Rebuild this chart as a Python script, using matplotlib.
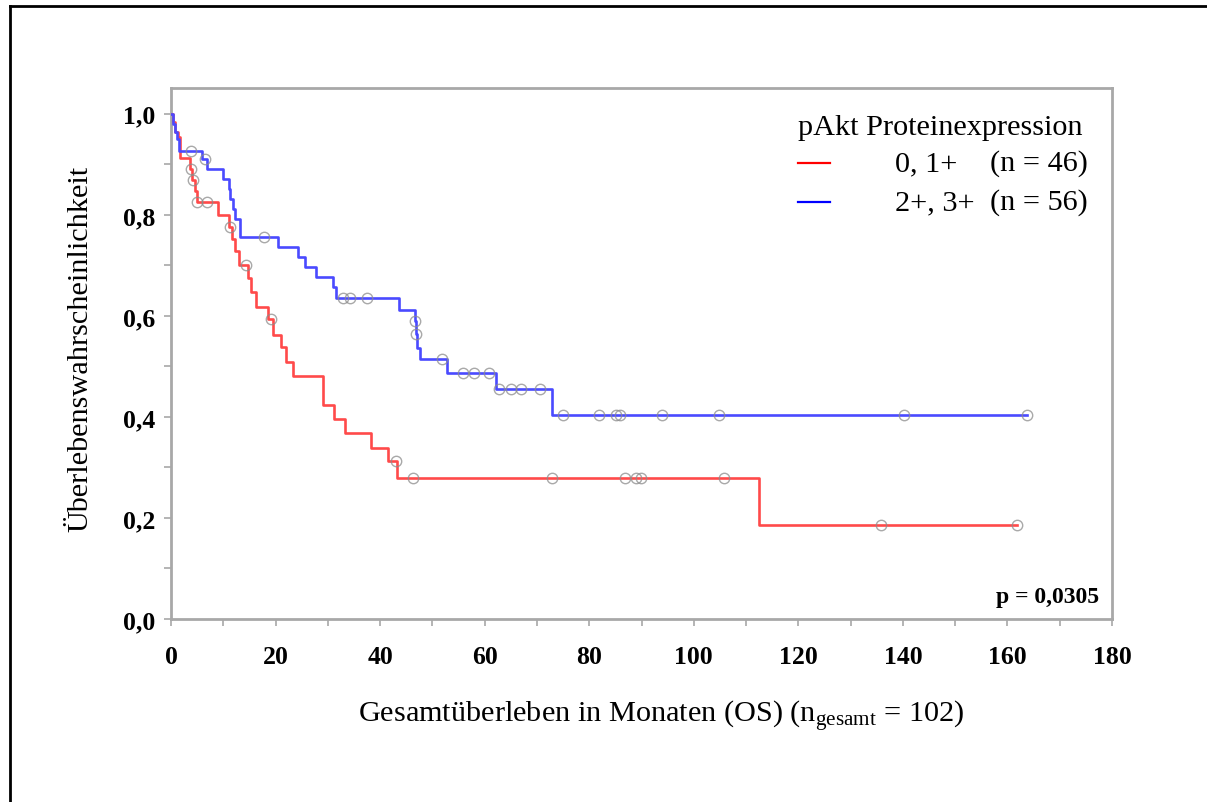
import numpy as np
import matplotlib
matplotlib.use("Agg")
import matplotlib.pyplot as plt
from matplotlib.lines import Line2D

# ---------------- data ----------------
red_label = "0, 1+"
red_n = "(n = 46)"
red_times = [0, 0.3, 0.8, 1.4, 1.8, 3.6, 4.0, 4.5, 4.9, 9.0, 11.1, 11.7, 12.3, 13.1,
             14.8, 15.3, 16.2, 18.6, 19.6, 21.0, 22.0, 23.4, 29.1, 31.2, 33.2, 38.3,
             41.6, 43.2, 112.5]
red_surv = [1.0, 0.984, 0.964, 0.954, 0.912, 0.891, 0.869, 0.847, 0.825, 0.799, 0.776,
            0.752, 0.728, 0.700, 0.674, 0.647, 0.618, 0.594, 0.562, 0.539, 0.508, 0.481,
            0.424, 0.396, 0.368, 0.339, 0.313, 0.279, 0.187]
red_censor = [3.8, 4.15, 5.0, 6.8, 11.3, 14.3, 19.1, 43.0, 46.2, 72.9, 86.9, 89.0,
              89.9, 105.8, 135.8, 161.9]

blue_label = "2+, 3+"
blue_n = "(n = 56)"
blue_times = [0, 0.3, 0.7, 1.2, 1.6, 5.9, 6.8, 10.0, 11.0, 11.3, 11.8, 12.2, 13.2, 20.5,
              24.3, 25.6, 27.8, 31.0, 31.6, 43.7, 46.7, 46.8, 47.0, 47.6, 52.7, 62.2, 72.8]
blue_surv = [1.0, 0.980, 0.964, 0.950, 0.927, 0.911, 0.891, 0.871, 0.851, 0.832, 0.812,
             0.792, 0.756, 0.736, 0.716, 0.696, 0.677, 0.657, 0.635, 0.612, 0.590, 0.564,
             0.536, 0.515, 0.487, 0.455, 0.404]
blue_censor = [3.8, 6.5, 17.7, 32.9, 34.2, 37.4, 46.75, 46.9, 51.9, 55.8, 57.9, 60.8,
               62.7, 65.1, 67.0, 70.5, 75.0, 81.9, 85.1, 85.8, 94.0, 104.9, 140.3, 163.8]

x_ticks = [0, 20, 40, 60, 80, 100, 120, 140, 160, 180]
y_ticks = [0.0, 0.2, 0.4, 0.6, 0.8, 1.0]
y_ticklabels = ["0,0", "0,2", "0,4", "0,6", "0,8", "1,0"]
legend_title = "pAkt Proteinexpression"
p_text = "p = 0,0305"
x_label = "Gesamtüberleben in Monaten (OS) (n$_{\\mathrm{gesamt}}$ = 102)"
y_label = "Überlebenswahrscheinlichkeit"

# ---------------- style ----------------
SERIF = ["Liberation Serif", "DejaVu Serif"]
plt.rcParams["font.family"] = SERIF
plt.rcParams["mathtext.fontset"] = "custom"
plt.rcParams["mathtext.rm"] = "Liberation Serif"
plt.rcParams["mathtext.it"] = "Liberation Serif:italic"

W, H = 1207, 803
fig = plt.figure(figsize=(W / 100, H / 100), dpi=100)
fig.patch.set_facecolor("white")

def fx(px):
    return px / W

def fy(py):
    return 1 - py / H

ax = fig.add_axes([fx(171), fy(620), fx(1112) - fx(171), fy(89) - fy(620)])

RED = "#ff4a4a"
BLUE = "#4a4aff"
GREY = "#a8a8a8"
TXT = 21.8

def draw_curve(times, surv, censor, color):
    t = np.asarray(times, float)
    s = np.asarray(surv, float)
    c = np.asarray(censor, float)
    end = max(t[-1], c.max())
    tt = np.append(t, end)
    ss = np.append(s, s[-1])
    ax.step(tt, ss, where="post", color=color, lw=1.9, zorder=3)
    idx = np.searchsorted(t, c, side="right") - 1
    ax.plot(c, s[idx], linestyle="none", marker="o", markersize=7.5,
            markerfacecolor="none", markeredgecolor="#8c8c8c", markeredgewidth=1.0,
            alpha=0.75, zorder=4)

draw_curve(red_times, red_surv, red_censor, RED)
draw_curve(blue_times, blue_surv, blue_censor, BLUE)

ax.set_xlim(0, 180)
ax.set_ylim(0, 1.051)
ax.set_xticks(x_ticks)
ax.set_xticks(np.arange(0, 181, 10), minor=True)
ax.set_yticks(y_ticks)
ax.set_yticks(np.arange(0, 1.01, 0.1), minor=True)
ax.set_yticklabels(y_ticklabels)
for sp in ax.spines.values():
    sp.set_color(GREY)
    sp.set_linewidth(2.0)
ax.tick_params(axis="both", which="both", color=GREY, width=1.2, length=5,
               direction="out")
ax.tick_params(axis="x", which="major", labelsize=18.5, pad=14)
ax.tick_params(axis="y", which="major", labelsize=18.5, pad=6)
for lab in ax.get_xticklabels() + ax.get_yticklabels():
    lab.set_fontweight("bold")

# axis labels
fig.text(fx(661), fy(717), x_label, ha="center", va="center", fontsize=TXT)
fig.text(fx(80), fy(349), y_label, ha="center", va="center", rotation=90, fontsize=TXT)

# legend (manual)
fig.text(fx(798), fy(128), legend_title, ha="left", va="center", fontsize=TXT)
fig.add_artist(Line2D([fx(798), fx(830)], [fy(164), fy(164)], color="#ff0000", lw=1.6))
fig.add_artist(Line2D([fx(798), fx(830)], [fy(203), fy(203)], color="#0000ff", lw=1.6))
fig.text(fx(895), fy(164), red_label, ha="left", va="center", fontsize=TXT)
fig.text(fx(990), fy(164), red_n, ha="left", va="center", fontsize=TXT)
fig.text(fx(895), fy(203), blue_label, ha="left", va="center", fontsize=TXT)
fig.text(fx(990), fy(203), blue_n, ha="left", va="center", fontsize=TXT)

# p-value
fig.text(fx(1099), fy(598), p_text, ha="right", va="center", fontsize=17,
         fontweight="bold")

# outer frame (left and top edges)
fig.add_artist(Line2D([fx(10), fx(10)], [fy(7), 0], color="black", lw=2))
fig.add_artist(Line2D([fx(10), 1], [fy(7), fy(7)], color="black", lw=2))

fig.savefig("out.png", dpi=100)
